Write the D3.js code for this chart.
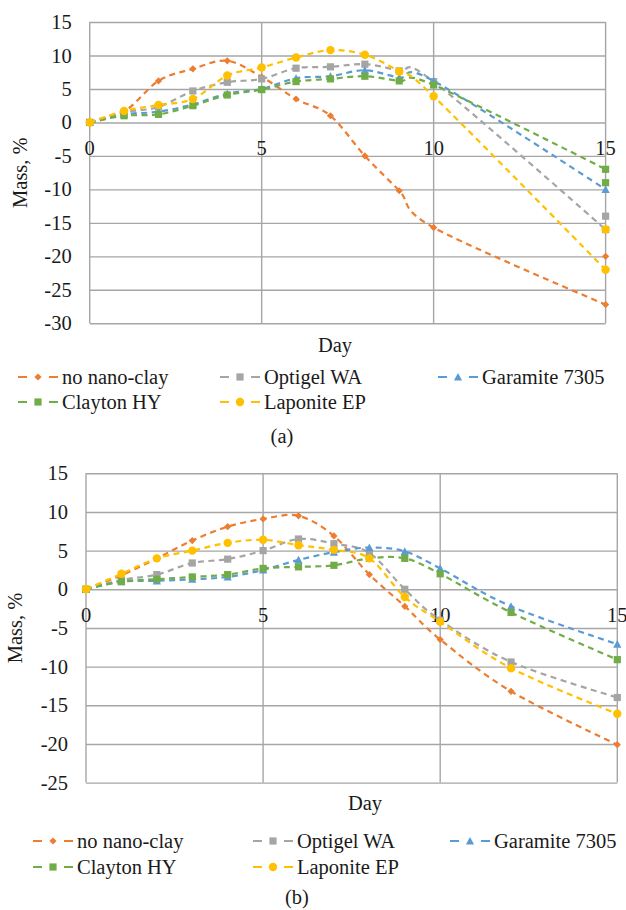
<!DOCTYPE html>
<html>
<head>
<meta charset="utf-8">
<title>Mass change with nano-clay</title>
<script src="https://d3js.org/d3.v7.min.js"></script>
<style>
    body { margin: 0; background: #fff; }
    svg text { font-family: "Liberation Serif", "Times New Roman", "DejaVu Serif", serif; fill: #1a1a1a; }
</style>
</head>
<body>
<svg id="myCanvas" width="626" height="910"></svg>
<script>
    // legend names
    var seriesNames = ["no nano-clay", "Optigel WA", "Garamite 7305", "Clayton HY", "Laponite EP"];
    var colors = ["#ED7D31", "#A5A5A5", "#5B9BD5", "#70AD47", "#FFC000"];
    var markers = ["diamond", "square", "triangle", "square", "circle"];

    // (a)
    var daysA = [0, 1, 2, 3, 4, 5, 6, 7, 8, 9, 10, 15];
    var noClayA   = [0, 1.6, 6.2, 8.0, 9.2, 6.8, 3.5, 1.0, -5.0, -10.2, -15.7, -27.2];
    var optigelA  = [0, 1.5, 2.3, 4.7, 6.0, 6.5, 8.1, 8.3, 8.7, 7.7, 6.1, -16];
    var garamiteA = [0, 1.2, 1.6, 2.7, 4.3, 5.0, 6.6, 6.9, 7.8, 6.7, 6.2, -10];
    var claytonA  = [0, 1.0, 1.2, 2.5, 4.1, 4.9, 6.1, 6.5, 6.9, 6.2, 5.6, -7];
    var laponiteA = [0, 1.7, 2.6, 3.5, 7.0, 8.2, 9.7, 10.8, 10.1, 7.6, 3.9, -22];
    // loose markers sitting on the day 15 line in (a)
    var extraSeriesA = [0, 1, 4, 3];
    var extraValuesA = [-20, -14, -16, -9];

    // (b)
    var daysB = [0, 1, 2, 3, 4, 5, 6, 7, 8, 9, 10, 12, 15];
    var noClayB   = [0, 1.8, 4.0, 6.3, 8.1, 9.1, 9.5, 6.9, 1.9, -2.2, -6.5, -13.2, -20.1];
    var optigelB  = [0, 1.2, 1.9, 3.4, 3.9, 5.0, 6.5, 5.9, 4.7, 0, -4.0, -9.4, -14.0];
    var garamiteB = [0, 1.0, 1.1, 1.3, 1.6, 2.5, 3.8, 4.8, 5.4, 4.9, 2.7, -2.2, -7.1];
    var claytonB  = [0, 1.0, 1.3, 1.6, 1.9, 2.7, 2.9, 3.1, 4.0, 4.0, 2.0, -3.0, -9.1];
    var laponiteB = [0, 2.0, 4.0, 5.0, 6.0, 6.4, 5.7, 5.1, 4.0, -1.0, -4.2, -10.2, -16.1];

    var xTicks = [0, 5, 10, 15];
    var yTicksA = [15, 10, 5, 0, -5, -10, -15, -20, -25, -30];
    var yTicksB = [15, 10, 5, 0, -5, -10, -15, -20, -25];

    var FONT = "Liberation Serif, Times New Roman, DejaVu Serif, serif";
    var FS = 20.5;

    var svg = d3.select("#myCanvas");

    function markerPath(type, cx, cy) {
        var s = 3.6;
        if (type == "diamond") return "M" + cx + "," + (cy - s) + "L" + (cx + s) + "," + cy + "L" + cx + "," + (cy + s) + "L" + (cx - s) + "," + cy + "Z";
        if (type == "square") return "M" + (cx - s) + "," + (cy - s) + "h" + (2 * s) + "v" + (2 * s) + "h" + (-2 * s) + "Z";
        if (type == "triangle") return "M" + cx + "," + (cy - s - 0.5) + "L" + (cx + s + 0.5) + "," + (cy + s) + "L" + (cx - s - 0.5) + "," + (cy + s) + "Z";
        return null;
    }

    function drawMarker(g, type, color, cx, cy) {
        if (type == "circle") {
            g.append("circle").attr("cx", cx).attr("cy", cy).attr("r", 4.2).attr("fill", color);
        } else {
            g.append("path").attr("d", markerPath(type, cx, cy)).attr("fill", color);
        }
    }

    function label(g, x, y, txt, anchor) {
        return g.append("text")
            .attr("x", x).attr("y", y)
            .attr("text-anchor", anchor || "middle")
            .attr("font-family", FONT)
            .attr("font-size", FS)
            .text(txt);
    }

    function drawChart(cfg) {
        var g = svg.append("g");
        var x = d3.scaleLinear([0, 15], [cfg.left, cfg.right]);
        var y = d3.scaleLinear(cfg.yDomain, [cfg.bottom, cfg.top]);

        // horizontal grid + value labels
        g.append("g")
            .attr("transform", "translate(" + cfg.left + ",0)")
            .call(d3.axisLeft(y).tickValues(cfg.yTicks).tickSize(-(cfg.right - cfg.left)).tickFormat(d => String(d)))
            .attr("font-family", FONT)
            .call(a => a.select(".domain").remove())
            .call(a => a.selectAll("line").attr("stroke", "#a6a6a6").attr("stroke-width", 1.4))
            .call(a => a.selectAll("text").attr("x", -18).attr("font-size", FS).attr("fill", "#1a1a1a"));

        // vertical grid
        g.append("g")
            .selectAll("line")
            .data(xTicks)
            .join("line")
            .attr("x1", d => x(d)).attr("x2", d => x(d))
            .attr("y1", cfg.top).attr("y2", cfg.bottom)
            .attr("stroke", "#a6a6a6").attr("stroke-width", 1.4);

        // day labels sit under the zero line
        xTicks.forEach(d => label(g, x(d), y(0) + 33, d));

        var line = d3.line()
            .x(d => x(d[0]))
            .y(d => y(d[1]))
            .curve(d3.curveCatmullRom.alpha(0));

        cfg.series.forEach(function(vals, i) {
            var pts = cfg.days.map((d, j) => [d, vals[j]]);
            g.append("path")
                .attr("d", line(pts))
                .attr("fill", "none")
                .attr("stroke", colors[i])
                .attr("stroke-width", 2.2)
                .attr("stroke-dasharray", "6,4.5");
            var mg = g.append("g");
            pts.forEach(p => drawMarker(mg, markers[i], colors[i], x(p[0]), y(p[1])));
        });

        if (cfg.extraSeries) {
            cfg.extraSeries.forEach(function(si, k) {
                drawMarker(g, markers[si], colors[si], x(15), y(cfg.extraValues[k]));
            });
        }

        // axis titles
        label(g, 0, 0, "Mass, %")
            .attr("transform", "translate(" + cfg.yTitleX + "," + ((cfg.top + cfg.bottom) / 2) + ") rotate(-90)");
        label(g, cfg.dayX, cfg.dayY, "Day");

        // legend
        var lg = g.append("g");
        seriesNames.forEach(function(name, i) {
            var lx = cfg.legendCols[i % 3], ly = cfg.legendRows[Math.floor(i / 3)];
            lg.append("line")
                .attr("x1", lx).attr("x2", lx + 40)
                .attr("y1", ly).attr("y2", ly)
                .attr("stroke", colors[i]).attr("stroke-width", 2)
                .attr("stroke-dasharray", "9,22,9");
            drawMarker(lg, markers[i], colors[i], lx + 20, ly);
            label(lg, lx + 44, ly + 7, name, "start");
        });

        label(g, cfg.capX, cfg.capY, cfg.caption);
    }

    drawChart({
        days: daysA,
        series: [noClayA, optigelA, garamiteA, claytonA, laponiteA],
        extraSeries: extraSeriesA, extraValues: extraValuesA,
        yDomain: [-30, 15], yTicks: yTicksA,
        left: 89.7, right: 605.6, top: 22, bottom: 323.3,
        yTitleX: 27, dayX: 335, dayY: 352,
        legendCols: [18, 220, 438], legendRows: [377, 402],
        capX: 282, capY: 443, caption: "(a)"
    });

    drawChart({
        days: daysB,
        series: [noClayB, optigelB, garamiteB, claytonB, laponiteB],
        yDomain: [-25, 15], yTicks: yTicksB,
        left: 86, right: 617.3, top: 473.3, bottom: 782.6,
        yTitleX: 22, dayX: 365, dayY: 810,
        legendCols: [33, 253, 450], legendRows: [841, 867],
        capX: 297, capY: 904, caption: "(b)"
    });
</script>
</body>
</html>
